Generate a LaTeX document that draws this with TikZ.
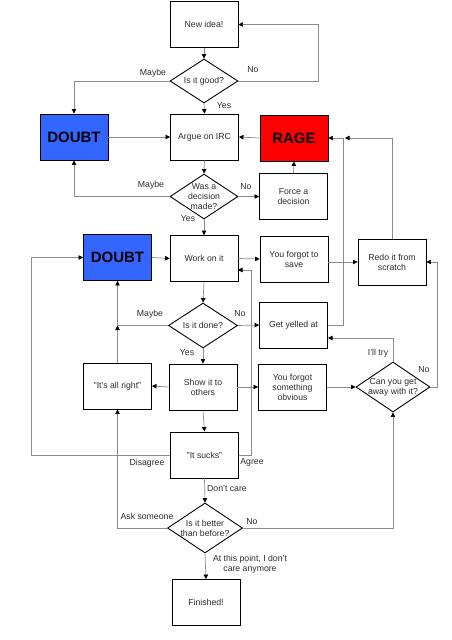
\documentclass[tikz,border=0pt]{standalone}
\usepackage{fontspec}
\setmainfont{Liberation Sans}
\usetikzlibrary{shapes.geometric,arrows.meta}
\definecolor{lnc}{RGB}{140,140,140}
\definecolor{txc}{RGB}{45,45,45}
\definecolor{dblue}{RGB}{51,102,255}
\definecolor{rred}{RGB}{255,0,0}
\tikzset{
  box/.style={draw=black, line width=0.9pt, minimum width=68pt, minimum height=46pt, inner sep=1pt,
    align=center, text=txc, font=\fontsize{8.7}{10}\selectfont},
  bigbox/.style={box, text=black, font=\fontsize{15}{17}\selectfont\bfseries},
  dia/.style={diamond, draw=black, line width=0.9pt, inner sep=0pt},
  lbl/.style={align=center, text=txc, font=\fontsize{8.7}{10}\selectfont, inner sep=0pt},
  con/.style={draw=lnc, line width=0.7pt, -{Triangle[color=black,length=4.5pt,width=4.5pt]}},
  conn/.style={draw=lnc, line width=0.7pt},
}
\begin{document}
\begin{tikzpicture}[x=1pt,y=-1pt]
\useasboundingbox[fill=white] (0,0) rectangle (452,640);
% boxes
\node[box] (idea) at (204,24.5) {New idea!};
\node[bigbox, fill=dblue] (doubt1) at (74,137) {DOUBT};
\node[box] (argue) at (204.5,137) {Argue on IRC};
\node[bigbox, fill=rred] (rage) at (294,138) {RAGE};
\node[box] (force) at (293.5,196.5) {Force a\\decision};
\node[bigbox, fill=dblue] (doubt2) at (117.5,257.5) {DOUBT};
\node[box] (work) at (204,258.5) {Work on it};
\node[box] (save) at (294,259) {You forgot to\\save};
\node[box] (redo) at (392,262) {Redo it from\\scratch};
\node[box] (yelled) at (293.5,325) {Get yelled at};
\node[box] (allright) at (117.5,386) {"It's all right"};
\node[box] (show) at (203,387) {Show it to\\others};
\node[box] (obvious) at (292.5,387) {You forgot\\something\\obvious};
\node[box] (sucks) at (204.5,455) {"It sucks"};
\node[box] (finished) at (206,602.5) {Finished!};
% diamonds
\node[dia, minimum width=68pt, minimum height=44pt] (q1) at (204,81) {};
\node[lbl] (q1t) at (q1.center) {Is it good?};
\node[dia, minimum width=68pt, minimum height=45pt] (q2) at (204,196.5) {};
\node[lbl] (q2t) at (q2.center) {Was a\\decision\\made?};
\node[dia, minimum width=69pt, minimum height=45pt] (q3) at (203,325.5) {};
\node[lbl] (q3t) at (q3.center) {Is it done?};
\node[dia, minimum width=74pt, minimum height=50pt] (q4) at (393,387) {};
\node[lbl] (q4t) at (q4.center) {Can you get\\away with it?};
\node[dia, minimum width=75pt, minimum height=50pt] (q5) at (205,528) {};
\node[lbl] (q5t) at (q5.center) {Is it better\\than before?};
% helper coordinates
\coordinate (ragein2) at (345,138);
\coordinate (jm) at (allright.north |- q3.west);
\coordinate (yellin) at (328,338);
\coordinate (workin) at (238,270);
% connectors
\draw[con] (idea.south) -- (q1.north);
\draw[con] (q1.east) -- ++(80,0) |- (idea.east);
\draw[con] (q1.west) -| (doubt1.north);
\draw[con] (q1.south) -- (argue.north);
\draw[con] (doubt1.east) -- (argue.west);
\draw[con] (rage.west) -- (argue.east);
\draw[con] (argue.south) -- (q2.north);
\draw[con] (q2.west) -| (doubt1.south);
\draw[con] (q2.east) -- (force.west);
\draw[con] (force.north) -- (rage.south);
\draw[con] (q2.south) -- (work.north);
\draw[con] (yelled.east) -- ++(15,0) |- (rage.east);
\draw[con] (redo.north) |- (ragein2);
\draw[con] (doubt2.east) -- (work.west);
\draw[con] (work.east) -- (save.west);
\draw[con] (save.east |- redo.west) -- (redo.west);
\draw[con] (work.south) -- (q3.north);
\draw[conn] (q3.west) -- (jm);
\draw[con] (allright.north) -- (jm);
\draw[con] (jm) -- (doubt2.south);
\draw[con] (q3.east) -- (yelled.west);
\draw[con] (q3.south) -- (show.north);
\draw[con] (show.west) -- (allright.east);
\draw[con] (show.east) -- (obvious.west);
\draw[con] (obvious.east) -- (q4.west);
\draw[con] (q4.north) |- (yellin);
\draw[con] (q4.east) -- ++(7,0) |- (redo.east);
\draw[con] (show.south) -- (sucks.north);
\draw[con] (sucks.west) -- ++(-138.5,0) |- (doubt2.west);
\draw[con] (sucks.east) -- ++(12,0) |- (workin);
\draw[con] (sucks.south) -- (q5.north);
\draw[con] (q5.west) -| (allright.south);
\draw[con] (q5.east) -| (q4.south);
\draw[con] (q5.south) -- (finished.north);
% labels
\node[lbl] (l1) at (153,73) {Maybe};
\node[lbl] (l2) at (253,70) {No};
\node[lbl] (l3) at (224,106) {Yes};
\node[lbl] (l4) at (151,185) {Maybe};
\node[lbl] (l5) at (246,187) {No};
\node[lbl] (l6) at (188,219) {Yes};
\node[lbl] (l7) at (150,314) {Maybe};
\node[lbl] (l8) at (240,314) {No};
\node[lbl] (l9) at (187,353) {Yes};
\node[lbl] (l10) at (378,353) {I'll try};
\node[lbl] (l11) at (424,370) {No};
\node[lbl] (l12) at (147,463) {Disagree};
\node[lbl] (l13) at (252,462) {Agree};
\node[lbl] (l14) at (227,489) {Don't care};
\node[lbl] (l15) at (147,516) {Ask someone};
\node[lbl] (l16) at (252,522) {No};
\node[lbl] (l17) at (250,564) {At this point, I don't\\care anymore};
\end{tikzpicture}
\end{document}
